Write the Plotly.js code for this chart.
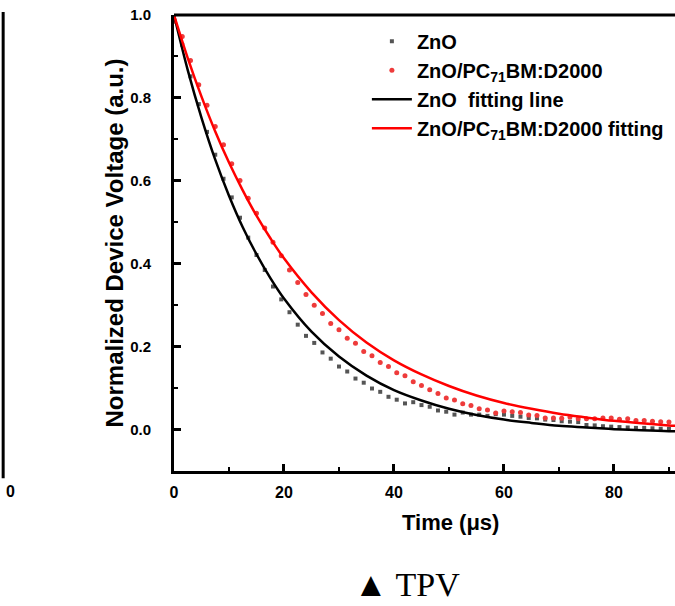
<!DOCTYPE html>
<html><head><meta charset="utf-8">
<script src="https://cdn.plot.ly/plotly-3.0.1.min.js"></script>
<style>html,body{margin:0;padding:0;background:#fff;overflow:hidden}</style>
</head><body><div id="chart" style="width:675px;height:606px"></div>
<script>
// Measured decay (time in microseconds)
const timeData = [0,1.5,3,4.5,6,7.5,9,10.5,12,13.5,15,16.5,18,19.5,21,22.5,24,25.5,27,28.5,30,31.5,33,34.5,36,37.5,39,40.5,42,43.5,45,46.5,48,49.5,51,52.5,54,55.5,57,58.5,60,61.5,63,64.5,66,67.5,69,70.5,72,73.5,75,76.5,78,79.5,81,82.5,84,85.5,87,88.5,90];
const znoData = [0.985,0.928,0.852,0.785,0.718,0.663,0.605,0.560,0.511,0.463,0.421,0.385,0.345,0.314,0.283,0.253,0.226,0.209,0.186,0.171,0.152,0.140,0.123,0.113,0.099,0.091,0.079,0.072,0.063,0.066,0.059,0.055,0.046,0.043,0.036,0.041,0.036,0.036,0.033,0.037,0.036,0.033,0.031,0.028,0.027,0.024,0.023,0.020,0.019,0.018,0.011,0.010,0.008,0.007,0.006,0.005,0.004,0.004,0.003,0.002,0.002];
const blendData = [0.985,0.948,0.890,0.832,0.782,0.731,0.687,0.641,0.601,0.558,0.522,0.486,0.452,0.419,0.385,0.355,0.326,0.300,0.280,0.256,0.241,0.220,0.208,0.188,0.178,0.162,0.152,0.137,0.130,0.115,0.106,0.096,0.087,0.076,0.071,0.062,0.058,0.050,0.047,0.040,0.045,0.043,0.041,0.035,0.034,0.028,0.028,0.027,0.030,0.026,0.026,0.026,0.028,0.028,0.025,0.026,0.022,0.022,0.020,0.019,0.018];
// Fitting curves
const fitTime = [0,2.5,5,7.5,10,12.5,15,17.5,20,25,30,35,40,45,50,55,60,65,70,75,80,85,90,91.5];
const znoFit = [1.0,0.867,0.752,0.651,0.564,0.488,0.423,0.366,0.316,0.236,0.176,0.130,0.095,0.070,0.050,0.035,0.024,0.016,0.009,0.005,0.001,-0.002,-0.004,-0.004];
const blendFit = [1.0,0.896,0.803,0.719,0.644,0.577,0.516,0.462,0.413,0.331,0.264,0.210,0.167,0.133,0.105,0.082,0.064,0.050,0.038,0.029,0.021,0.015,0.010,0.009];
const seriesNames = ['ZnO','ZnO/PC<sub>71</sub>BM:D2000','ZnO  fitting line','ZnO/PC<sub>71</sub>BM:D2000 fitting'];
const xTicks = [0,20,40,60,80];
const yTicks = [0.0,0.2,0.4,0.6,0.8,1.0];

const F = 'Liberation Sans, Arial, sans-serif';
const traces = [
  {x: timeData, y: znoData, name: seriesNames[0], mode: 'markers', type: 'scatter',
   marker: {symbol: 'square', size: 4, color: '#555555'}},
  {x: timeData, y: blendData, name: seriesNames[1], mode: 'markers', type: 'scatter',
   marker: {symbol: 'circle', size: 5, color: '#ee3b3b'}},
  {x: fitTime, y: znoFit, name: seriesNames[2], mode: 'lines', type: 'scatter',
   line: {color: '#000000', width: 2.5, shape: 'spline'}},
  {x: fitTime, y: blendFit, name: seriesNames[3], mode: 'lines', type: 'scatter',
   line: {color: '#ff0000', width: 2.5, shape: 'spline'}}
];
const layout = {
  width: 675, height: 606,
  margin: {l: 174, r: 0, t: 15, b: 135},
  paper_bgcolor: '#fff', plot_bgcolor: '#fff',
  showlegend: true,
  legend: {x: 0.385, y: 0.985, xanchor: 'left', yanchor: 'top', bgcolor: 'rgba(0,0,0,0)',
    font: {family: F, size: 20, color: '#000', weight: 'bold'}, itemwidth: 40, tracegroupgap: 0},
  xaxis: {range: [0, 91.1], tickvals: xTicks, ticks: 'inside', ticklen: 7, tickwidth: 2.5, tickcolor: '#000',
    showline: true, linewidth: 3, linecolor: '#000', showgrid: false, zeroline: false,
    ticklabelstandoff: 5,
    tickfont: {family: F, size: 16, color: '#000', weight: 'bold'},
    minor: {dtick: 10, tick0: 0, ticks: 'inside', ticklen: 4, tickwidth: 2, tickcolor: '#000', showgrid: false}},
  yaxis: {range: [-0.1, 1.0], tickvals: yTicks, tickformat: '.1f', ticks: 'inside', ticklen: 7, tickwidth: 2.5, tickcolor: '#000',
    showline: true, linewidth: 3, linecolor: '#000', showgrid: false, zeroline: false,
    ticklabelstandoff: 17,
    tickfont: {family: F, size: 15, color: '#000', weight: 'bold'},
    minor: {dtick: 0.1, tick0: 0, ticks: 'inside', ticklen: 4, tickwidth: 2, tickcolor: '#000', showgrid: false},
    title: {text: 'Normalized Device Voltage (a.u.)', standoff: 0,
      font: {family: F, size: 24, color: '#000', weight: 'bold'}}},
  shapes: [
    {type: 'line', xref: 'paper', yref: 'paper', x0: 0, x1: 1, y0: 1, y1: 1, line: {color: '#000', width: 3}},
    {type: 'line', xref: 'paper', yref: 'paper', x0: -0.341, x1: -0.341, y0: 1.0066, y1: -0.016, line: {color: '#000', width: 3}}
  ],
  annotations: [
    {text: 'Time (μs)', xref: 'paper', yref: 'paper', x: 0.551, y: -0.113, xanchor: 'center', yanchor: 'middle', showarrow: false,
     font: {family: F, size: 22, color: '#000', weight: 'bold'}},
    {text: '▲ TPV', xref: 'paper', yref: 'paper', x: 0.465, y: -0.248, xanchor: 'center', yanchor: 'middle', showarrow: false,
     font: {family: 'Liberation Serif, Times New Roman, serif', size: 34, color: '#000'}},
    {text: '0', xref: 'paper', yref: 'paper', x: -0.326, y: -0.045, xanchor: 'center', yanchor: 'middle', showarrow: false,
     font: {family: F, size: 16, color: '#000', weight: 'bold'}}
  ]
};
Plotly.newPlot('chart', traces, layout, {displayModeBar: false, responsive: false});
</script></body></html>
